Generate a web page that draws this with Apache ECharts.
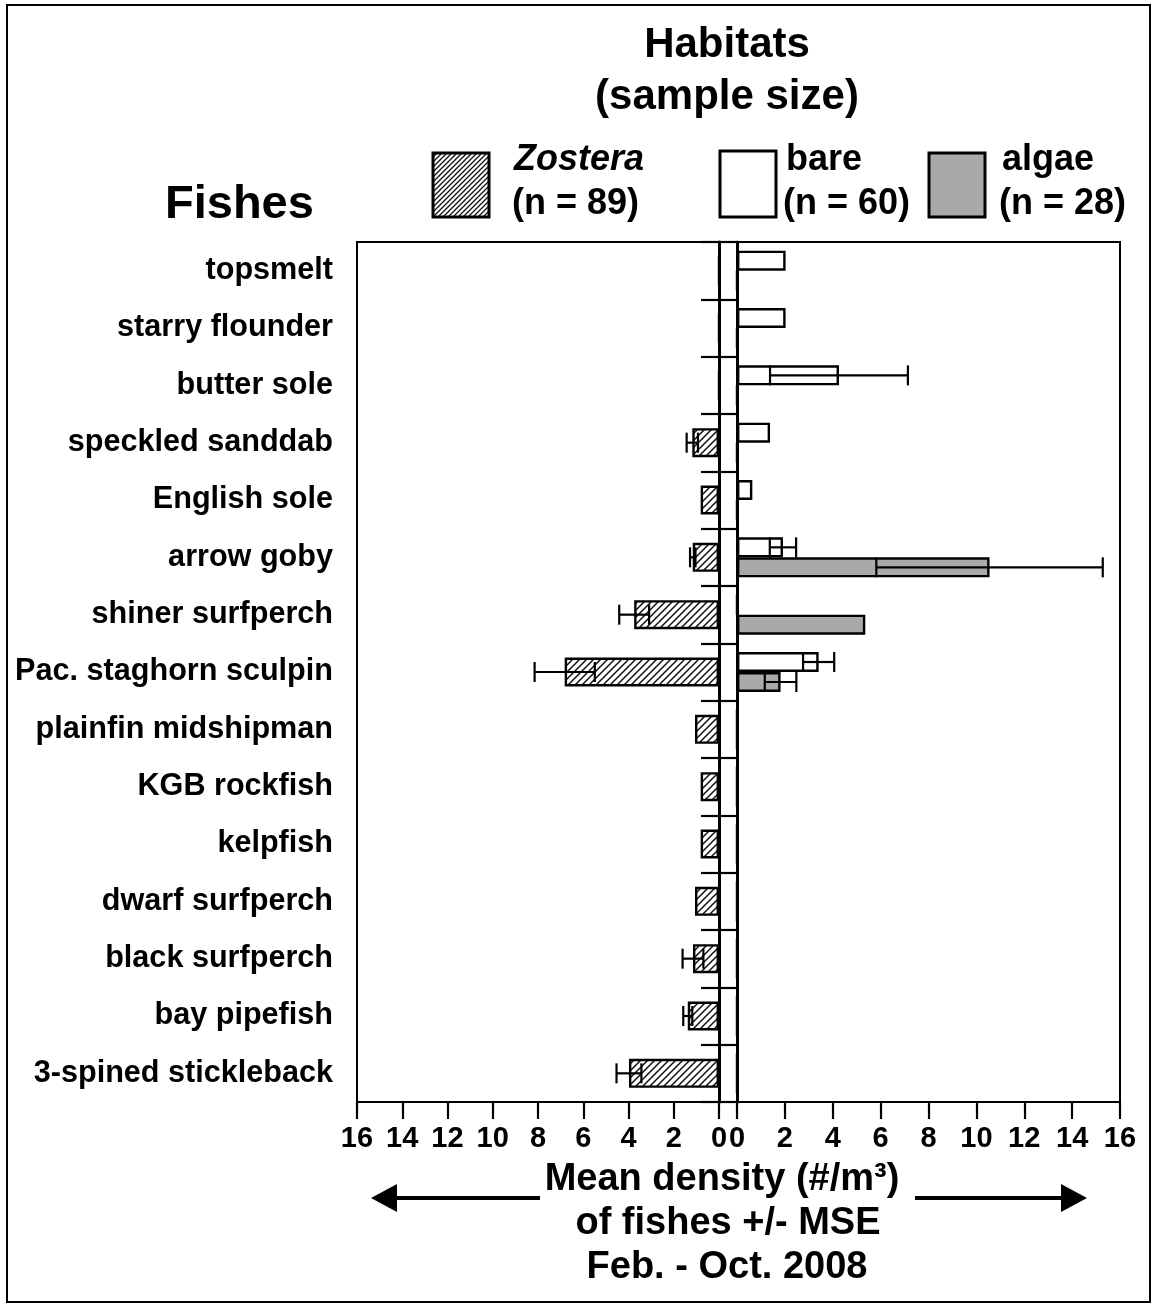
<!DOCTYPE html>
<html>
<head>
<meta charset="utf-8">
<script src="https://cdn.jsdelivr.net/npm/echarts@6/dist/echarts.min.js"></script>
<style>
  html, body { margin: 0; padding: 0; background: #fff; }
  #chart { width: 1154px; height: 1305px; }
</style>
</head>
<body>
<div id="chart"></div>
<script>
// Fish species, top to bottom
const categories = [
  'topsmelt', 'starry flounder', 'butter sole', 'speckled sanddab', 'English sole',
  'arrow goby', 'shiner surfperch', 'Pac. staghorn sculpin', 'plainfin midshipman',
  'KGB rockfish', 'kelpfish', 'dwarf surfperch', 'black surfperch', 'bay pipefish',
  '3-spined stickleback'
];

// Mean density (#/m3) and its standard error, per habitat
const zosteraMean = [0, 0, 0, 1.18, 0.81, 1.16, 3.75, 6.82, 1.06, 0.81, 0.81, 1.06, 1.15, 1.38, 3.98];
const zosteraSE   = [0, 0, 0, 0.25, 0,    0.12, 0.66, 1.33, 0,    0,    0,    0,    0.46, 0.2,  0.55];
const bareMean    = [2.03, 2.03, 4.26, 1.38, 0.64, 1.92, 0, 3.41, 0, 0, 0, 0, 0, 0, 0];
const bareSE      = [0,    0,    2.88, 0,    0,    0.55, 0, 0.65, 0, 0, 0, 0, 0, 0, 0];
const algaeMean   = [0, 0, 0, 0, 0, 10.55, 5.36, 1.82, 0, 0, 0, 0, 0, 0, 0];
const algaeSE     = [0, 0, 0, 0, 0, 4.73,  0,    0.66, 0, 0, 0, 0, 0, 0, 0];

const axisMax = 16;
const axisStep = 2;

// Legend entries
const habitatNames = ['Zostera', 'bare', 'algae'];
const habitatN = ['(n = 89)', '(n = 60)', '(n = 28)'];

// ---- layout ----
const W = 1154, H = 1305;
const plotTop = 242, plotBottom = 1102;
const leftX0 = 357, leftX1 = 719;     // Zostera panel (axis reversed)
const rightX0 = 737, rightX1 = 1120;  // bare / algae panel
const FONT = "'Liberation Sans', Arial, Helvetica, sans-serif";
const ALGAE_GREY = '#a9a9a9';

// diagonal hatch texture
function makeHatch(step, lw) {
  const c = document.createElement('canvas');
  c.width = step; c.height = step;
  const g = c.getContext('2d');
  g.fillStyle = '#fff';
  g.fillRect(0, 0, step, step);
  g.strokeStyle = '#111';
  g.lineWidth = lw;
  g.beginPath();
  g.moveTo(-1, step + 1); g.lineTo(step + 1, -1);
  g.moveTo(-1, 1); g.lineTo(1, -1);
  g.moveTo(step - 1, step + 1); g.lineTo(step + 1, step - 1);
  g.stroke();
  return c;
}
const barHatch = makeHatch(7, 1.5);
const legendHatch = makeHatch(5, 1.3);

function errData(mean, se) {
  const out = [];
  mean.forEach((m, i) => { if (se[i] > 0) out.push([m - se[i], m + se[i], i]); });
  return out;
}

// horizontal error bar with end caps; offset shifts it onto its bar within the band
function errorRenderer(offset) {
  return function (params, api) {
    const i = api.value(2);
    const a = api.coord([api.value(0), i]);
    const b = api.coord([api.value(1), i]);
    const y = a[1] + offset;
    const cap = 10;
    const st = { stroke: '#000', lineWidth: 2.2 };
    return {
      type: 'group',
      children: [
        { type: 'line', shape: { x1: a[0], y1: y, x2: b[0], y2: y }, style: st },
        { type: 'line', shape: { x1: a[0], y1: y - cap, x2: a[0], y2: y + cap }, style: st },
        { type: 'line', shape: { x1: b[0], y1: y - cap, x2: b[0], y2: y + cap }, style: st }
      ]
    };
  };
}

const valueAxisCommon = {
  type: 'value', min: 0, max: axisMax, interval: axisStep, position: 'bottom',
  splitLine: { show: false },
  axisLine: { show: true, onZero: false, lineStyle: { color: '#000', width: 2 } },
  axisTick: { show: true, inside: false, length: 17, lineStyle: { color: '#000', width: 2.2 } },
  axisLabel: { color: '#000', fontFamily: FONT, fontWeight: 'bold', fontSize: 29, margin: 22 }
};

const chart = echarts.init(document.getElementById('chart'), null, { renderer: 'canvas' });

const option = {
  backgroundColor: '#fff',
  animation: false,
  grid: [
    { left: leftX0, right: W - leftX1, top: plotTop, bottom: H - plotBottom, containLabel: false },
    { left: rightX0, right: W - rightX1, top: plotTop, bottom: H - plotBottom, containLabel: false }
  ],
  xAxis: [
    Object.assign({}, valueAxisCommon, { gridIndex: 0, inverse: true }),
    Object.assign({}, valueAxisCommon, { gridIndex: 1 })
  ],
  yAxis: [
    { // species names
      type: 'category', gridIndex: 0, data: categories, inverse: true, position: 'left',
      axisLine: { show: false }, axisTick: { show: false },
      axisLabel: { color: '#000', fontFamily: FONT, fontWeight: 'bold', fontSize: 30.6, margin: 24 }
    },
    { // zero line of the Zostera panel
      type: 'category', gridIndex: 0, data: categories, inverse: true, position: 'right',
      axisLine: { show: true, lineStyle: { color: '#000', width: 3 } },
      axisTick: { show: true, inside: true, length: 18, lineStyle: { color: '#000', width: 2.2 } },
      axisLabel: { show: false }
    },
    { // zero line of the bare/algae panel
      type: 'category', gridIndex: 1, data: categories, inverse: true, position: 'left',
      axisLine: { show: true, lineStyle: { color: '#000', width: 3 } },
      axisTick: { show: true, inside: false, length: 18, lineStyle: { color: '#000', width: 2.2 } },
      axisLabel: { show: false }
    }
  ],
  series: [
    {
      name: 'Zostera', type: 'bar', xAxisIndex: 0, yAxisIndex: 0,
      data: zosteraMean, barWidth: 29,
      itemStyle: { color: { image: barHatch, repeat: 'repeat' }, borderColor: '#000', borderWidth: 2.4 }
    },
    {
      name: 'bare', type: 'bar', xAxisIndex: 1, yAxisIndex: 2,
      data: bareMean, barWidth: 20, barGap: '0%',
      itemStyle: { color: '#fff', borderColor: '#000', borderWidth: 2.4 }
    },
    {
      name: 'algae', type: 'bar', xAxisIndex: 1, yAxisIndex: 2,
      data: algaeMean, barWidth: 20, barGap: '0%',
      itemStyle: { color: ALGAE_GREY, borderColor: '#000', borderWidth: 2.4 }
    },
    {
      type: 'custom', xAxisIndex: 0, yAxisIndex: 0, z: 5,
      encode: { x: [0, 1], y: 2 },
      data: errData(zosteraMean, zosteraSE), renderItem: errorRenderer(0)
    },
    {
      type: 'custom', xAxisIndex: 1, yAxisIndex: 2, z: 5,
      encode: { x: [0, 1], y: 2 },
      data: errData(bareMean, bareSE), renderItem: errorRenderer(-10)
    },
    {
      type: 'custom', xAxisIndex: 1, yAxisIndex: 2, z: 5,
      encode: { x: [0, 1], y: 2 },
      data: errData(algaeMean, algaeSE), renderItem: errorRenderer(10)
    }
  ],
  graphic: [
    // outer frame
    { type: 'rect', shape: { x: 7, y: 5, width: 1143, height: 1297 }, style: { fill: null, stroke: '#000', lineWidth: 2 }, z: 1 },
    // plot frame
    { type: 'rect', shape: { x: leftX0, y: plotTop, width: rightX1 - leftX0, height: plotBottom - plotTop },
      style: { fill: null, stroke: '#000', lineWidth: 2 }, z: 1 },
    // heading
    { type: 'text', x: 727, y: 45, style: { text: 'Habitats', font: 'bold 42px ' + FONT, fill: '#000', align: 'center', verticalAlign: 'middle' } },
    { type: 'text', x: 727, y: 97, style: { text: '(sample size)', font: 'bold 42px ' + FONT, fill: '#000', align: 'center', verticalAlign: 'middle' } },
    { type: 'text', x: 165, y: 205, style: { text: 'Fishes', font: 'bold 47px ' + FONT, fill: '#000', align: 'left', verticalAlign: 'middle' } },
    // legend
    { type: 'rect', shape: { x: 433, y: 153, width: 56, height: 64 }, style: { fill: { image: legendHatch, repeat: 'repeat' }, stroke: '#000', lineWidth: 3 } },
    { type: 'text', x: 514, y: 160, style: { text: habitatNames[0], font: 'italic bold 36px ' + FONT, fill: '#000', verticalAlign: 'middle' } },
    { type: 'text', x: 512, y: 204, style: { text: habitatN[0], font: 'bold 36px ' + FONT, fill: '#000', verticalAlign: 'middle' } },
    { type: 'rect', shape: { x: 720, y: 151, width: 56, height: 66 }, style: { fill: '#fff', stroke: '#000', lineWidth: 3 } },
    { type: 'text', x: 786, y: 160, style: { text: habitatNames[1], font: 'bold 36px ' + FONT, fill: '#000', verticalAlign: 'middle' } },
    { type: 'text', x: 783, y: 204, style: { text: habitatN[1], font: 'bold 36px ' + FONT, fill: '#000', verticalAlign: 'middle' } },
    { type: 'rect', shape: { x: 929, y: 153, width: 56, height: 64 }, style: { fill: ALGAE_GREY, stroke: '#000', lineWidth: 3 } },
    { type: 'text', x: 1002, y: 160, style: { text: habitatNames[2], font: 'bold 36px ' + FONT, fill: '#000', verticalAlign: 'middle' } },
    { type: 'text', x: 999, y: 204, style: { text: habitatN[2], font: 'bold 36px ' + FONT, fill: '#000', verticalAlign: 'middle' } },
    // x-axis caption
    { type: 'text', x: 722, y: 1180, style: { text: 'Mean density (#/m³)', font: 'bold 38px ' + FONT, fill: '#000', align: 'center', verticalAlign: 'middle' } },
    { type: 'text', x: 728, y: 1224, style: { text: 'of fishes +/- MSE', font: 'bold 38px ' + FONT, fill: '#000', align: 'center', verticalAlign: 'middle' } },
    { type: 'text', x: 727, y: 1268, style: { text: 'Feb. - Oct. 2008', font: 'bold 38px ' + FONT, fill: '#000', align: 'center', verticalAlign: 'middle' } },
    // direction arrows
    { type: 'line', shape: { x1: 392, y1: 1198, x2: 540, y2: 1198 }, style: { stroke: '#000', lineWidth: 4 } },
    { type: 'polygon', shape: { points: [[371, 1198], [397, 1184], [397, 1212]] }, style: { fill: '#000' } },
    { type: 'line', shape: { x1: 915, y1: 1198, x2: 1064, y2: 1198 }, style: { stroke: '#000', lineWidth: 4 } },
    { type: 'polygon', shape: { points: [[1087, 1198], [1061, 1184], [1061, 1212]] }, style: { fill: '#000' } }
  ]
};

chart.setOption(option);
</script>
</body>
</html>
